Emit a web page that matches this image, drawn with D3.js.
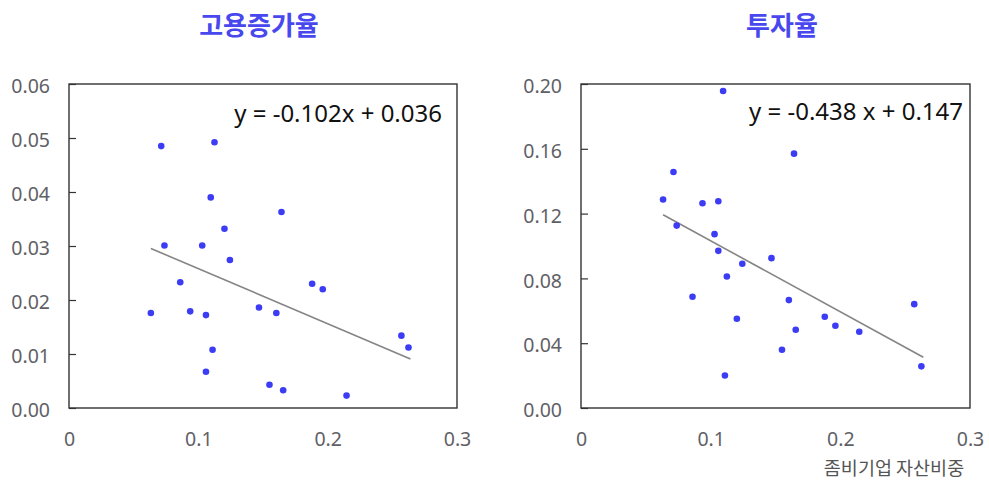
<!DOCTYPE html>
<html>
<head>
<meta charset="utf-8">
<script src="https://cdn.jsdelivr.net/npm/d3@7"></script>
<style>
  html, body { margin: 0; padding: 0; background: #fff; }
  svg { display: block; }
</style>
</head>
<body>
<svg id="chart" width="989" height="483"></svg>
<script>
// Shared x: zombie-firm asset share
const zombieShare = [0.0633, 0.0713, 0.0738, 0.0860, 0.0937, 0.1030, 0.1059, 0.1059, 0.1096, 0.1110, 0.1125, 0.1202, 0.1244, 0.1469, 0.1550, 0.1603, 0.1643, 0.1656, 0.1880, 0.1962, 0.2146, 0.2570, 0.2625];
// Employment growth rate
const employmentGrowth = [0.0176, 0.0485, 0.0301, 0.0233, 0.0179, 0.0301, 0.0172, 0.0067, 0.0390, 0.0108, 0.0492, 0.0332, 0.0274, 0.0186, 0.0043, 0.0176, 0.0363, 0.0033, 0.0230, 0.0220, 0.0023, 0.0134, 0.0112];
// Investment rate
const investmentRate = [0.1287, 0.1457, 0.1126, 0.0687, 0.1264, 0.1073, 0.1276, 0.0970, 0.1957, 0.0201, 0.0812, 0.0551, 0.0890, 0.0925, 0.0360, 0.0666, 0.1570, 0.0483, 0.0563, 0.0508, 0.0471, 0.0641, 0.0257];

const titles = ["고용증가율", "투자율"];
const equations = ["y = -0.102x + 0.036", "y = -0.438 x + 0.147"];
const slopes = [-0.102, -0.438];
const intercepts = [0.036, 0.147];
const xTicks = [0, 0.1, 0.2, 0.3];
const xTickLabels = ["0", "0.1", "0.2", "0.3"];
const yTicksLeft = [0, 0.01, 0.02, 0.03, 0.04, 0.05, 0.06];
const yTickLabelsLeft = ["0.00", "0.01", "0.02", "0.03", "0.04", "0.05", "0.06"];
const yTicksRight = [0, 0.04, 0.08, 0.12, 0.16, 0.20];
const yTickLabelsRight = ["0.00", "0.04", "0.08", "0.12", "0.16", "0.20"];
const xAxisTitle = "좀비기업 자산비중";

const svg = d3.select("#chart");
const tickFont = "'Noto Sans', 'Open Sans', sans-serif";
const krFont = "'Noto Sans CJK KR', 'Noto Sans', sans-serif";

const panels = [
  { x0: 69, x1: 457, y0: 84, y1: 408, ys: employmentGrowth, yMax: 0.06, yTicks: yTicksLeft, yLabels: yTickLabelsLeft, titleX: 259, eqX: 442, eqY: 122 },
  { x0: 581, x1: 970, y0: 84, y1: 408, ys: investmentRate, yMax: 0.20, yTicks: yTicksRight, yLabels: yTickLabelsRight, titleX: 782, eqX: 963, eqY: 120 }
];

panels.forEach((p, i) => {
  const xs = d3.scaleLinear().domain([0, 0.3]).range([p.x0, p.x1]);
  const ys = d3.scaleLinear().domain([0, p.yMax]).range([p.y1, p.y0]);
  const g = svg.append("g");

  // y axis (inward ticks)
  const yAxis = d3.axisLeft(ys).tickValues(p.yTicks)
    .tickFormat((d, k) => p.yLabels[k])
    .tickSizeInner(-7).tickSizeOuter(0).tickPadding(19);
  const ya = g.append("g").attr("transform", `translate(${p.x0},0)`).call(yAxis);
  ya.select(".domain").remove();
  ya.selectAll(".tick line").attr("stroke", "#333").attr("stroke-width", 1.2);
  ya.selectAll(".tick text").attr("fill", "#5f6066").attr("font-size", 19.5)
    .attr("font-family", tickFont).attr("dy", "0.45em");

  // x axis (labels only)
  const xAxis = d3.axisBottom(xs).tickValues(xTicks)
    .tickFormat((d, k) => xTickLabels[k]).tickSize(0).tickPadding(24);
  const xa = g.append("g").attr("transform", `translate(0,${p.y1})`).call(xAxis);
  xa.select(".domain").remove();
  xa.selectAll(".tick text").attr("fill", "#5f6066").attr("font-size", 19.5)
    .attr("font-family", tickFont);

  // frame
  g.append("rect").attr("x", p.x0).attr("y", p.y0)
    .attr("width", p.x1 - p.x0).attr("height", p.y1 - p.y0)
    .attr("fill", "none").attr("stroke", "#333").attr("stroke-width", 1.4);

  // regression line
  const ext = d3.extent(zombieShare);
  const lineData = [ext[0], ext[1] + 0.0015].map(x => [x, slopes[i] * x + intercepts[i]]);
  g.append("path").datum(lineData)
    .attr("d", d3.line().x(d => xs(d[0])).y(d => ys(d[1])))
    .attr("fill", "none").attr("stroke", "#858585").attr("stroke-width", 1.6);

  // points
  g.selectAll("circle.pt").data(zombieShare.map((x, k) => [x, p.ys[k]]))
    .enter().append("circle").attr("class", "pt")
    .attr("cx", d => xs(d[0])).attr("cy", d => ys(d[1])).attr("r", 3.3)
    .attr("fill", "#3c3cf5");

  // equation
  g.append("text").attr("x", p.eqX).attr("y", p.eqY).attr("text-anchor", "end")
    .attr("font-family", tickFont).attr("font-size", 24).attr("fill", "#111")
    .text(equations[i]);

  // title
  svg.append("text").attr("x", p.titleX).attr("y", 23)
    .attr("text-anchor", "middle").attr("dominant-baseline", "central")
    .attr("font-family", krFont).attr("font-weight", "bold").attr("font-size", 26)
    .attr("fill", "#4848ee").text(titles[i]);
});

svg.append("text").attr("x", 894).attr("y", 467)
  .attr("text-anchor", "middle").attr("dominant-baseline", "central")
  .attr("font-family", krFont).attr("font-size", 18.5).attr("fill", "#555")
  .text(xAxisTitle);
</script>
</body>
</html>
